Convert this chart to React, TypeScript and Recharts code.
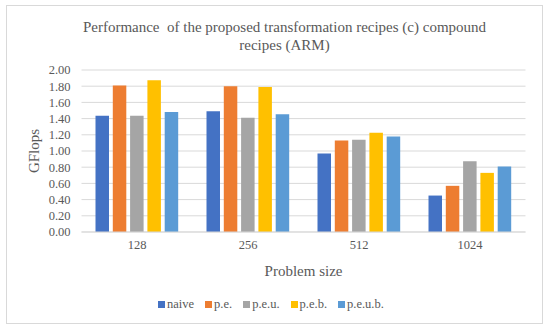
import { Bar, BarChart, CartesianGrid, Label, XAxis, YAxis } from "recharts"

const sizes = ["128", "256", "512", "1024"]
const naive = [1.435, 1.49, 0.97, 0.45]
const pe = [1.81, 1.8, 1.13, 0.57]
const peu = [1.435, 1.41, 1.14, 0.875]
const peb = [1.875, 1.79, 1.225, 0.73]
const peub = [1.48, 1.455, 1.18, 0.81]
const yTicks = [0, 0.2, 0.4, 0.6, 0.8, 1.0, 1.2, 1.4, 1.6, 1.8, 2.0]

const series = [
    { key: "naive", name: "naive", color: "#4472C4", values: naive },
    { key: "pe", name: "p.e.", color: "#ED7D31", values: pe },
    { key: "peu", name: "p.e.u.", color: "#A5A5A5", values: peu },
    { key: "peb", name: "p.e.b.", color: "#FFC000", values: peb },
    { key: "peub", name: "p.e.u.b.", color: "#5B9BD5", values: peub },
]

const data = sizes.map((size, i) => {
    const row: Record<string, string | number> = { size }
    series.forEach((s) => { row[s.key] = s.values[i] })
    return row
})

const font = "Liberation Serif, serif"
const textColor = "#595959"

export default function App() {
    return (
        <div style={{ position: "absolute", left: 0, top: 0, width: 550, height: 334, background: "#fff", fontFamily: font }}>
            <div style={{ position: "absolute", left: 6, top: 5, width: 535, height: 317, border: "1px solid #d9d9d9" }} />
            <div style={{ position: "absolute", left: 69.5, top: 17.5, width: 430, textAlign: "center", fontSize: 15, lineHeight: "18px", color: textColor }}>
                Performance&nbsp; of the proposed transformation recipes (c) compound recipes (ARM)
            </div>
            <div style={{ position: "absolute", left: 0, top: 0 }}>
                <BarChart
                    width={550}
                    height={334}
                    data={data}
                    margin={{ top: 70, right: 24.5, bottom: 57, left: 20 }}
                    barSize={13.5}
                    barGap={3.8}
                    style={{ fontFamily: font }}
                >
                    <CartesianGrid stroke="#d9d9d9" vertical={false} />
                    <XAxis
                        dataKey="size"
                        height={45}
                        axisLine={{ stroke: "#d9d9d9" }}
                        tickLine={false}
                        tick={{ fill: textColor, fontSize: 12.5, fontFamily: font }}
                    >
                        <Label value="Problem size" position="insideBottom" offset={1} fill={textColor} fontSize={15} fontFamily={font} />
                    </XAxis>
                    <YAxis
                        width={61.5}
                        domain={[0, 2]}
                        ticks={yTicks}
                        interval={0}
                        axisLine={false}
                        tickLine={false}
                        tickSize={0}
                        tickMargin={11}
                        tickFormatter={(v) => Number(v).toFixed(2)}
                        tick={{ fill: textColor, fontSize: 12.5, fontFamily: font }}
                    >
                        <Label value="GFlops" angle={-90} position="insideLeft" offset={14} fill={textColor} fontSize={15} fontFamily={font} style={{ textAnchor: "middle" }} />
                    </YAxis>
                    {series.map((s) => (
                        <Bar key={s.key} dataKey={s.key} name={s.name} fill={s.color} isAnimationActive={false} />
                    ))}
                </BarChart>
            </div>
            <div style={{ position: "absolute", left: 158, top: 297, display: "flex", fontSize: 12.5, color: textColor }}>
                {series.map((s, i) => (
                    <div key={s.key} style={{ display: "flex", alignItems: "center", marginRight: i < series.length - 1 ? 11 : 0 }}>
                        <span style={{ display: "inline-block", width: 7, height: 7, background: s.color, marginRight: 2 }} />
                        <span>{s.name}</span>
                    </div>
                ))}
            </div>
        </div>
    )
}
